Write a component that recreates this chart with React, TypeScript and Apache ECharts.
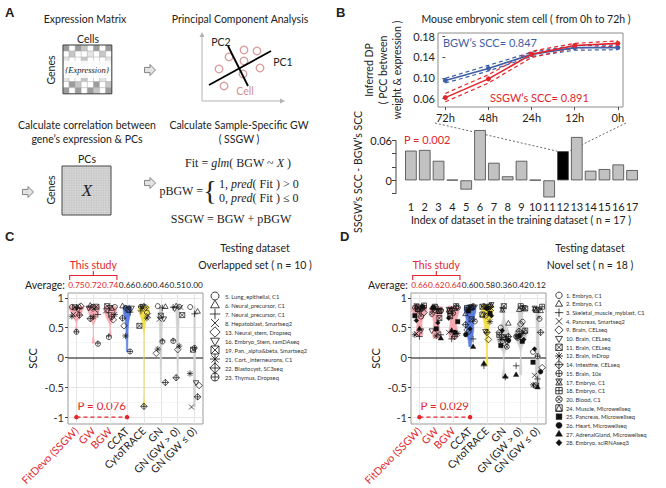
import React, { useEffect, useRef } from 'react';
import * as echarts from 'echarts';

const FONT = 'Lato, "Open Sans", sans-serif';
const SERIF = '"Liberation Serif", "DejaVu Serif", serif';
const RED = '#e2262c';
const BLUE = '#3f5fa6';
const TXT = '#222';

// ---------- Panel B (top): inferred DP over time ----------
const TIME_LABELS = ['72h', '48h', '24h', '12h', '0h'];
const BGW_MEAN = [0.095, 0.118, 0.145, 0.158, 0.158];
const BGW_UPPER = [0.099, 0.124, 0.149, 0.162, 0.163];
const BGW_LOWER = [0.090, 0.113, 0.141, 0.153, 0.154];
const SSGW_MEAN = [0.062, 0.098, 0.145, 0.162, 0.166];
const SSGW_UPPER = [0.070, 0.106, 0.151, 0.166, 0.171];
const SSGW_LOWER = [0.054, 0.090, 0.139, 0.157, 0.161];

// ---------- Panel B (bottom): SCC differences ----------
const BAR_INDEX = ['1', '2', '3', '4', '5', '6', '7', '8', '9', '10', '11', '12', '13', '14', '15', '16', '17'];
const BAR_DIFF = [0.0446, 0.0456, 0.0293, 0.0008, -0.0139, 0.0754, 0.0263, 0.006, 0.0293, 0.0006, -0.0268, 0.0437, 0.065, 0.0144, 0.0169, 0.0238, 0.0154];
const HIGHLIGHT_BAR = 11;

// ---------- Panels C / D ----------
const METHODS = ['FitDevo (SSGW)', 'GW', 'BGW', 'CCAT', 'CytoTRACE', 'GN', 'GN (GW > 0)', 'GN (GW ≤ 0)'];
const VIOLIN_COLORS = ['#f5a9b1', '#f5a9b1', '#f5a9b1', '#5b7fe0', '#f3df4c', '#d0d0d0', '#d0d0d0', '#d0d0d0'];

const C_DATASETS = ['5. Lung_epithelial, C1', '6. Neural_precursor, C1', '7. Neural_precursor, C1', '8. Hepatoblast, Smartseq2', '13. Neural_stem, Dropseq', '16. Embryo_Stem, ramDAseq', '19. Pan._alpha&beta, Smartseq2', '21. Cort._interneurons, C1', '22. Blastocyst, SC3seq', '23. Thymus, Dropseq'];
const C_PCH = [1, 2, 3, 4, 5, 6, 7, 8, 9, 10];
const C_AVG = ['0.75', '0.72', '0.74', '0.66', '0.60', '0.46', '0.51', '0.00'];
const C_FITDEVO = [0.86, 0.85, 0.84, 0.72, 0.86, 0.80, 0.84, 0.69, 0.71, 0.43];
const C_GW = [0.85, 0.87, 0.72, 0.80, 0.84, 0.83, 0.85, 0.68, 0.65, 0.24];
const C_BGW = [0.86, 0.82, 0.75, 0.78, 0.63, 0.84, 0.86, 0.72, 0.68, 0.36];
const C_CCAT = [0.85, 0.86, 0.76, 0.84, 0.53, 0.83, 0.80, 0.36, 0.66, 0.10];
const C_CYTO = [0.75, 0.86, 0.78, 0.70, 0.84, 0.85, 0.53, 0.66, -0.82, 0.85];
const C_GN = [0.86, 0.85, 0.83, 0.64, 0.07, 0.65, 0.70, 0.14, -0.42, 0.28];
const C_GN_POS = [0.86, 0.86, 0.84, 0.84, 0.13, 0.82, 0.71, 0.19, -0.34, 0.29];
const C_GN_NEG = [0.86, 0.77, 0.73, -0.83, -0.47, -0.42, 0.13, -0.27, -0.66, 0.16];
const C_P = 'P = 0.076';

const D_DATASETS = ['1. Embryo, C1', '2. Embryo, C1', '3. Skeletal_muscle_myblast, C1', '4. Pancreas, Smartseq2', '9. Brain, CELseq', '10. Brain, CELseq', '11. Brain, CELseq', '12. Brain, InDrop', '14. Intestine, CELseq', '15. Brain, 10x', '17. Embryo, C1', '18. Embryo, C1', '20. Blood, C1', '24. Muscle, Microwellseq', '25. Pancreas, Microwellseq', '26. Heart, Microwellseq', '27. AdrenalGland, Microwellseq', '28. Embryo, sciRNAseq3'];
const D_PCH = [1, 2, 3, 4, 5, 6, 7, 8, 9, 10, 11, 12, 13, 14, 15, 16, 17, 18];
const D_AVG = ['0.66', '0.62', '0.64', '0.60', '0.58', '0.36', '0.42', '0.12'];
const D_FITDEVO = [0.85, 0.84, 0.35, 0.40, 0.75, 0.45, 0.84, 0.38, 0.83, 0.78, 0.86, 0.87, 0.70, 0.81, 0.70, 0.85, 0.48, 0.62];
const D_GW = [0.84, 0.83, 0.38, 0.40, 0.80, 0.45, 0.66, 0.36, 0.82, 0.80, 0.78, 0.85, 0.74, 0.78, 0.48, 0.84, 0.32, 0.58];
const D_BGW = [0.85, 0.82, 0.31, 0.42, 0.84, 0.42, 0.69, 0.40, 0.35, 0.82, 0.80, 0.86, 0.74, 0.78, 0.60, 0.44, 0.45, 0.66];
const D_CCAT = [0.45, 0.73, 0.31, 0.83, 0.46, 0.85, 0.64, 0.80, 0.55, 0.86, 0.84, 0.83, 0.62, 0.84, 0.78, 0.40, 0.18, 0.48];
const D_CYTO = [0.86, 0.84, -0.14, 0.82, 0.30, 0.44, 0.85, 0.60, 0.42, 0.86, 0.88, 0.85, 0.72, 0.72, 0.74, 0.82, -0.10, 0.70];
const D_GN = [0.50, 0.57, -0.33, 0.22, 0.42, 0.26, 0.86, 0.30, 0.35, 0.33, 0.80, 0.38, 0.18, 0.34, 0.20, 0.30, -0.32, 0.45];
const D_GN_POS = [0.62, 0.80, -0.14, 0.42, 0.56, 0.35, 0.82, 0.40, 0.44, 0.36, 0.83, 0.86, 0.33, 0.45, 0.27, 0.38, -0.29, 0.30];
const D_GN_NEG = [0.10, 0.78, -0.36, -0.30, -0.17, 0.80, -0.47, -0.46, 0.42, 0.02, 0.82, 0.85, 0.67, 0.80, -0.08, -0.24, -0.50, 0.14];
const D_P = 'P = 0.029';

const C_VALUES = [C_FITDEVO, C_GW, C_BGW, C_CCAT, C_CYTO, C_GN, C_GN_POS, C_GN_NEG];
const D_VALUES = [D_FITDEVO, D_GW, D_BGW, D_CCAT, D_CYTO, D_GN, D_GN_POS, D_GN_NEG];

// ---------- helpers ----------
function kde(vals: number[]) {
  const n = vals.length;
  const mean = vals.reduce((a, b) => a + b, 0) / n;
  const sd = Math.sqrt(vals.reduce((a, b) => a + (b - mean) ** 2, 0) / (n - 1));
  const s = [...vals].sort((a, b) => a - b);
  const q = (p: number) => { const h = (n - 1) * p; const lo = Math.floor(h); return s[lo] + (h - lo) * (s[Math.min(lo + 1, n - 1)] - s[lo]); };
  let lo = Math.min(sd, (q(0.75) - q(0.25)) / 1.34);
  if (!(lo > 0)) lo = sd || 0.1;
  const bw = 0.9 * lo * Math.pow(n, -0.2);
  const out: number[][] = [];
  const K = 60;
  for (let k = 0; k <= K; k++) {
    const y = s[0] + ((s[n - 1] - s[0]) * k) / K;
    let d = 0;
    for (const v of vals) d += Math.exp(-0.5 * ((y - v) / bw) ** 2);
    out.push([y, d / (n * bw * Math.sqrt(2 * Math.PI))]);
  }
  return out;
}
function violinShapes(values: number[][]) {
  const dens = values.map(kde);
  let maxD = 0;
  dens.forEach(d => d.forEach(p => { if (p[1] > maxD) maxD = p[1]; }));
  return dens.map(d => d.map(([y, v]) => [y, (v / maxD) * 0.45]));
}

function pchShapes(p: number, cx: number, cy: number, r: number, lw: number): any[] {
  const color = '#111';
  const S = { stroke: color, fill: 'none', lineWidth: lw };
  const F = { stroke: color, fill: color, lineWidth: lw * 0.5 };
  const ln = (x1: number, y1: number, x2: number, y2: number) => ({ type: 'line', shape: { x1: cx + x1 * r, y1: cy + y1 * r, x2: cx + x2 * r, y2: cy + y2 * r }, style: { stroke: color, lineWidth: lw } });
  const circ = (k: number, st: any) => ({ type: 'circle', shape: { cx, cy, r: r * k }, style: st });
  const poly = (pts: number[][], st: any) => ({ type: 'polygon', shape: { points: pts.map(([x, y]) => [cx + x * r, cy + y * r]) }, style: st });
  const UP = [[0, -1.2], [1.1, 0.7], [-1.1, 0.7]];
  const DOWN = [[0, 1.2], [1.1, -0.7], [-1.1, -0.7]];
  const DIA = [[0, -1.3], [1.3, 0], [0, 1.3], [-1.3, 0]];
  const SQ = [[-1, -1], [1, -1], [1, 1], [-1, 1]];
  switch (p) {
    case 1: return [circ(1, S)];
    case 2: return [poly(UP, S)];
    case 3: return [ln(-1.3, 0, 1.3, 0), ln(0, -1.3, 0, 1.3)];
    case 4: return [ln(-1, -1, 1, 1), ln(-1, 1, 1, -1)];
    case 5: return [poly(DIA, S)];
    case 6: return [poly(DOWN, S)];
    case 7: return [poly(SQ, S), ln(-1, -1, 1, 1), ln(-1, 1, 1, -1)];
    case 8: return [ln(-1.25, 0, 1.25, 0), ln(0, -1.25, 0, 1.25), ln(-0.9, -0.9, 0.9, 0.9), ln(-0.9, 0.9, 0.9, -0.9)];
    case 9: return [poly(DIA, S), ln(-1.3, 0, 1.3, 0), ln(0, -1.3, 0, 1.3)];
    case 10: return [circ(1, S), ln(-1, 0, 1, 0), ln(0, -1, 0, 1)];
    case 11: return [poly([[-1, -0.95], [1, -0.95], [0, 0.85]], S), poly([[-1, 0.95], [1, 0.95], [0, -0.85]], S)];
    case 12: return [poly(SQ, S), ln(-1, 0, 1, 0), ln(0, -1, 0, 1)];
    case 13: return [circ(1, S), ln(-0.7, -0.7, 0.7, 0.7), ln(-0.7, 0.7, 0.7, -0.7)];
    case 14: return [poly(SQ, S), poly([[0, -1], [1, 1], [-1, 1]], S)];
    case 15: return [poly([[-0.9, -0.9], [0.9, -0.9], [0.9, 0.9], [-0.9, 0.9]], F)];
    case 16: return [circ(0.95, F)];
    case 17: return [poly(UP, F)];
    case 18: return [poly([[0, -1], [0.95, 0], [0, 1], [-0.95, 0]], F)];
  }
  return [];
}

function T(x: number, y: number, text: string, o: any = {}) {
  const { rotation, ...st } = o;
  return {
    type: 'text', x, y, rotation: rotation || 0, silent: true,
    style: { text, fontSize: 10.5, fontFamily: FONT, fill: TXT, align: 'center', verticalAlign: 'middle', textAlign: 'center', textVerticalAlign: 'middle', ...st },
  };
}
function L(x1: number, y1: number, x2: number, y2: number, st: any = {}) {
  return { type: 'line', silent: true, shape: { x1, y1, x2, y2 }, style: { stroke: '#000', lineWidth: 1, ...st } };
}

const MATRIX_PATTERN = [
  'd.dm.d.d',
  '.m..l.m.',
  'l..m...l',
  '........',
  '........',
  'l..m..l.',
  '.dm..d.m',
  'd.d.dm.d',
];

function panelA(): any[] {
  const els: any[] = [];
  els.push(T(5, 12, 'A', { align: 'left', textAlign: 'left', fontSize: 13, fontWeight: 'bold', fontFamily: 'Liberation Sans, Arial, sans-serif' }));
  els.push(T(85, 19, 'Expression Matrix'));
  els.push(T(240, 19, 'Principal Component Analysis'));
  els.push(T(88, 39, 'Cells'));
  els.push(T(51, 70, 'Genes', { rotation: Math.PI / 2 }));
  // matrix 1
  const mx = 63, my = 45, cs = 6.1;
  const col: any = { d: '#9c9c9c', m: '#c6c6c6', l: '#e4e4e4', '.': '#ffffff' };
  MATRIX_PATTERN.forEach((row, r) => row.split('').forEach((ch, c) => {
    els.push({ type: 'rect', silent: true, shape: { x: mx + c * cs, y: my + r * cs, width: cs, height: cs }, style: { fill: col[ch], stroke: '#a8a8a8', lineWidth: 0.4 } });
  }));
  els.push({ type: 'rect', silent: true, shape: { x: mx + 1, y: my + 2.6 * cs, width: 8 * cs - 2, height: 2.8 * cs }, style: { fill: '#ffffff', opacity: 0.85 } });
  els.push(T(87, 70, '{Expression}', { fontFamily: SERIF, fontStyle: 'italic', fontSize: 8.5 }));
  els.push({ type: 'rect', silent: true, shape: { x: mx, y: my, width: 8 * cs, height: 8 * cs }, style: { fill: 'none', stroke: '#444', lineWidth: 1 } });
  // arrows
  const arrow = (cx: number, cy: number) => ({ type: 'polygon', silent: true, shape: { points: [[cx - 5.5, cy - 2.6], [cx, cy - 2.6], [cx, cy - 5.5], [cx + 5.5, cy], [cx, cy + 5.5], [cx, cy + 2.6], [cx - 5.5, cy + 2.6]] }, style: { fill: '#e2e2e2', stroke: '#777', lineWidth: 0.9 } });
  els.push(arrow(150, 70), arrow(28, 192), arrow(150, 183));
  // PCA sketch
  els.push(L(202, 101, 202, 36, { stroke: '#b3b3b3' }));
  els.push({ type: 'polygon', silent: true, shape: { points: [[199.5, 37], [202, 32], [204.5, 37]] }, style: { fill: '#b3b3b3' } });
  els.push(L(202, 101, 281, 101, { stroke: '#b3b3b3' }));
  els.push({ type: 'polygon', silent: true, shape: { points: [[280, 98.5], [285, 101], [280, 103.5]] }, style: { fill: '#b3b3b3' } });
  const cells = [[219, 69], [229, 57], [244, 50], [257, 51], [244, 61], [260, 68], [243, 74], [224, 86]];
  cells.forEach(([x, y]) => els.push({ type: 'circle', silent: true, shape: { cx: x, cy: y, r: 3.8 }, style: { fill: 'none', stroke: '#d99a9a', lineWidth: 1.3 } }));
  els.push(L(209, 85, 271, 51, { lineWidth: 1.8 }));
  els.push(L(228, 46, 248, 86, { lineWidth: 1.8 }));
  els.push(T(221, 42, 'PC2'));
  els.push(T(283, 62, 'PC1'));
  els.push(T(245, 91, 'Cell', { fill: '#d48e8e' }));
  // second row
  els.push(T(87, 125, 'Calculate correlation between'));
  els.push(T(87, 139, 'gene’s expression & PCs'));
  els.push(T(239, 125, 'Calculate Sample-Specific GW'));
  els.push(T(239, 139, '( SSGW )'));
  els.push(T(87, 159, 'PCs'));
  els.push(T(51, 190, 'Genes', { rotation: Math.PI / 2 }));
  const px0 = 62, py0 = 166, sz = 49;
  els.push({ type: 'rect', silent: true, shape: { x: px0, y: py0, width: sz, height: sz }, style: { fill: '#dadada' } });
  for (let k = 1; k < 20; k++) {
    const o = (sz * k) / 20;
    els.push(L(px0 + o, py0, px0 + o, py0 + sz, { stroke: '#b8b8b8', lineWidth: 0.4 }));
    els.push(L(px0, py0 + o, px0 + sz, py0 + o, { stroke: '#b8b8b8', lineWidth: 0.4 }));
  }
  els.push({ type: 'rect', silent: true, shape: { x: px0, y: py0, width: sz, height: sz }, style: { fill: 'none', stroke: '#444', lineWidth: 1 } });
  els.push(T(87, 190, 'X', { fontFamily: SERIF, fontStyle: 'italic', fontSize: 17 }));
  // formulas
  const rich = { n: { fontFamily: SERIF, fontSize: 12, fill: TXT }, i: { fontFamily: SERIF, fontSize: 12, fontStyle: 'italic', fill: TXT } };
  els.push(T(238, 163, '{n|Fit = }{i|glm}{n|( BGW ~ }{i|X}{n| )}', { rich }));
  els.push(T(203, 191, 'pBGW =', { fontFamily: SERIF, fontSize: 12, align: 'right', textAlign: 'right' }));
  els.push(T(210, 190, '{', { fontFamily: SERIF, fontSize: 28 }));
  els.push(T(219, 184, '{n|1, }{i|pred}{n|( Fit ) > 0}', { rich, align: 'left', textAlign: 'left' }));
  els.push(T(219, 198, '{n|0, }{i|pred}{n|( Fit ) ≤ 0}', { rich, align: 'left', textAlign: 'left' }));
  els.push(T(231, 219, 'SSGW = BGW + pBGW', { fontFamily: SERIF, fontSize: 12 }));
  return els;
}

function legend(names: string[], pchs: number[], symX: number, textX: number, y0: number, dy: number, r: number): any[] {
  const els: any[] = [];
  names.forEach((nm, i) => {
    const y = y0 + i * dy;
    els.push({ type: 'group', silent: true, children: pchShapes(pchs[i], symX, y, r, 0.8) });
    els.push(T(textX, y, nm, { fontSize: 5.8, align: 'left', textAlign: 'left', fill: '#333' }));
  });
  return els;
}

function violinSeries(xi: number, yi: number, values: number[][]) {
  const shapes = violinShapes(values);
  return {
    type: 'custom', xAxisIndex: xi, yAxisIndex: yi, z: 3, silent: true,
    data: METHODS.map((_, i) => [i, 0]),
    renderItem: (params: any, api: any) => {
      const i = api.value(0);
      const cx = api.coord([i, 0])[0];
      const band = api.size([1, 0])[0];
      const Lp: number[][] = [], Rp: number[][] = [];
      for (const [y, hw] of shapes[i]) {
        const py = api.coord([i, y])[1];
        Lp.push([cx - hw * band, py]);
        Rp.push([cx + hw * band, py]);
      }
      return { type: 'polygon', shape: { points: Lp.concat(Rp.reverse()) }, style: { fill: VIOLIN_COLORS[i], stroke: VIOLIN_COLORS[i], lineWidth: 0.6 } };
    },
  };
}

function pointSeries(xi: number, yi: number, values: number[][], pchs: number[]) {
  const data: number[][] = [];
  values.forEach((arr, m) => arr.forEach((v, d) => data.push([m, v, d])));
  return {
    type: 'custom', xAxisIndex: xi, yAxisIndex: yi, z: 4, silent: true,
    encode: { x: 0, y: 1 },
    data,
    renderItem: (params: any, api: any) => {
      const m = api.value(0), v = api.value(1), d = api.value(2);
      const [x, y] = api.coord([m, v]);
      const band = api.size([1, 0])[0];
      const jit = ((((d * 5 + m * 3) % 7) - 3) / 3) * 0.27 * band;
      return { type: 'group', children: pchShapes(pchs[d], x + jit, y, 2.5, 0.7) };
    },
  };
}

function gridLines(xi: number, yi: number) {
  const minor = [-0.75, -0.25, 0.25, 0.75];
  const major = [-1, -0.5, 0.5, 1];
  return {
    type: 'line', xAxisIndex: xi, yAxisIndex: yi, data: [[0, 0]], symbol: 'none', lineStyle: { opacity: 0 }, silent: true, z: 1,
    markLine: {
      silent: true, symbol: 'none', label: { show: false }, z: 1, animation: false,
      data: [
        ...minor.map(v => ({ yAxis: v, lineStyle: { color: '#f2f2f2', width: 0.6, type: 'solid' } })),
        ...major.map(v => ({ yAxis: v, lineStyle: { color: '#e3e3e3', width: 0.9, type: 'solid' } })),
        ...METHODS.map(m => ({ xAxis: m, lineStyle: { color: '#e3e3e3', width: 0.9, type: 'solid' } })),
        { yAxis: 0, lineStyle: { color: '#5a5a5a', width: 1.6, type: 'solid' } },
      ],
    },
  };
}

function pLine(xi: number, yi: number) {
  return {
    type: 'line', xAxisIndex: xi, yAxisIndex: yi, z: 6, silent: true,
    data: [[0, -1], [3, -1]], symbol: 'circle', symbolSize: 4.5,
    itemStyle: { color: RED }, lineStyle: { color: RED, width: 1.2, type: [4, 3] },
  };
}

function methodAxes(gridIndex: number, avg: string[]) {
  return [
    {
      type: 'category', gridIndex, data: METHODS.map((m, i) => ({ value: m, textStyle: { color: i < 3 ? RED : TXT } })),
      axisLine: { show: false }, axisTick: { show: true, alignWithLabel: true, length: 3, lineStyle: { color: '#444' } },
      axisLabel: { rotate: 45, interval: 0, fontSize: 10.5, margin: 5, fontFamily: FONT },
      splitLine: { show: false },
    },
    {
      type: 'category', gridIndex, position: 'top', data: avg.map((a, i) => ({ value: a, textStyle: { color: i < 3 ? RED : TXT } })),
      axisLine: { show: false }, axisTick: { show: false },
      axisLabel: { interval: 0, fontSize: 8.3, margin: 4, fontFamily: FONT },
    },
  ];
}
function sccAxis(gridIndex: number) {
  const ticks = [-1, -0.5, 0, 0.5, 1];
  return {
    type: 'value', gridIndex, min: -1.115, max: 1.08,
    name: 'SCC', nameLocation: 'middle', nameGap: 30, nameRotate: 90,
    nameTextStyle: { fontSize: 11, color: TXT, fontFamily: FONT },
    axisLine: { show: false },
    axisTick: { show: true, length: 3, customValues: ticks, lineStyle: { color: '#444' } },
    axisLabel: { customValues: ticks, fontSize: 11, color: '#333', margin: 4, fontFamily: FONT },
    splitLine: { show: false },
  };
}

function buildOption(): any {
  const lineS = (data: number[], color: string, dashed: boolean) => ({
    type: 'line', xAxisIndex: 0, yAxisIndex: 0, silent: true,
    data: data.map((v, i) => [i, v]),
    symbol: dashed ? 'none' : 'circle', symbolSize: 5,
    itemStyle: { color }, lineStyle: { color, width: dashed ? 1.2 : 1.6, type: dashed ? [4, 3] : 'solid' },
    z: dashed ? 2 : 3,
  });
  return {
    animation: false,
    backgroundColor: '#fff',
    textStyle: { fontFamily: FONT },
    grid: [
      { left: 438, top: 33, width: 185, height: 74, show: true, borderColor: '#8c8c8c', borderWidth: 1 },
      { left: 404, top: 127, width: 235, height: 70 },
      { left: 68, top: 293, width: 135, height: 135, show: true, borderColor: '#9a9a9a', borderWidth: 1 },
      { left: 411, top: 293, width: 135, height: 135, show: true, borderColor: '#9a9a9a', borderWidth: 1 },
    ],
    xAxis: [
      {
        type: 'value', gridIndex: 0, min: -0.17, max: 4.12,
        axisLine: { show: false }, splitLine: { show: false },
        axisTick: { show: true, length: 3, customValues: [0, 1, 2, 3, 4], lineStyle: { color: '#555' } },
        axisLabel: { customValues: [0, 1, 2, 3, 4], formatter: (v: number) => TIME_LABELS[Math.round(v)], fontSize: 11, color: TXT, margin: 5 },
      },
      {
        type: 'category', gridIndex: 1, data: BAR_INDEX,
        axisLine: { show: false }, axisTick: { show: false },
        axisLabel: { interval: 0, fontSize: 11, color: TXT, margin: 4 },
      },
      ...methodAxes(2, C_AVG),
      ...methodAxes(3, D_AVG),
    ],
    yAxis: [
      {
        type: 'value', gridIndex: 0, min: 0.044, max: 0.186,
        axisLine: { show: false }, splitLine: { show: false },
        axisTick: { show: true, length: 3, customValues: [0.06, 0.10, 0.14, 0.18], lineStyle: { color: '#555' } },
        axisLabel: { customValues: [0.06, 0.10, 0.14, 0.18], formatter: (v: number) => v.toFixed(2), fontSize: 11, color: TXT, margin: 3 },
      },
      {
        type: 'value', gridIndex: 1, min: -0.025, max: 0.08, offset: 8,
        axisLine: { show: false }, splitLine: { show: false },
        axisTick: { show: true, length: 4, customValues: [-0.02, 0, 0.02, 0.04, 0.06], lineStyle: { color: '#444' } },
        axisLabel: { customValues: [0, 0.06], formatter: (v: number) => (v === 0 ? '0' : v.toFixed(2)), fontSize: 11, color: TXT, margin: 4 },
      },
      sccAxis(2),
      sccAxis(3),
    ],
    series: [
      lineS(BGW_UPPER, BLUE, true), lineS(BGW_LOWER, BLUE, true),
      lineS(SSGW_UPPER, RED, true), lineS(SSGW_LOWER, RED, true),
      lineS(BGW_MEAN, BLUE, false), lineS(SSGW_MEAN, RED, false),
      {
        type: 'bar', xAxisIndex: 1, yAxisIndex: 1, silent: true, barCategoryGap: '16%',
        itemStyle: { color: '#c2c2c2', borderColor: '#444', borderWidth: 0.8 },
        data: BAR_DIFF.map((v, i) => (i === HIGHLIGHT_BAR ? { value: v, itemStyle: { color: '#000' } } : v)),
      },
      gridLines(2, 2), violinSeries(2, 2, C_VALUES), pointSeries(2, 2, C_VALUES, C_PCH), pLine(2, 2),
      gridLines(4, 3), violinSeries(4, 3, D_VALUES), pointSeries(4, 3, D_VALUES, D_PCH), pLine(4, 3),
    ],
  };
}

function buildGraphics(chart: any): any[] {
  const px = (xi: number, yi: number, pt: any[]) => chart.convertToPixel({ xAxisIndex: xi, yAxisIndex: yi }, pt) as number[];
  const els: any[] = panelA();
  const bold = { fontSize: 13, fontWeight: 'bold', fontFamily: 'Liberation Sans, Arial, sans-serif', align: 'left', textAlign: 'left' };
  els.push(T(336, 12, 'B', bold), T(5, 236, 'C', bold), T(340, 236, 'D', bold));

  // Panel B texts
  els.push(T(526, 19, 'Mouse embryonic stem cell ( from 0h to 72h )'));
  els.push(T(443, 42, 'BGW’s SCC= 0.847', { fill: BLUE, fontSize: 11, align: 'left', textAlign: 'left' }));
  els.push(T(490, 97, 'SSGW’s SCC= 0.891', { fill: RED, fontSize: 11, align: 'left', textAlign: 'left' }));
  els.push(T(383, 70, 'Inferred DP\n( PCC between\nweight & expression )', { rotation: Math.PI / 2, lineHeight: 14, fontSize: 10.5 }));
  els.push(T(358, 172, 'SSGW’s SCC - BGW’s SCC', { rotation: Math.PI / 2, fontSize: 10.5 }));
  els.push(T(521, 220, 'Index of dataset in the training dataset ( n = 17 )'));
  els.push(T(404, 139, 'P = 0.002', { fill: RED, fontSize: 11, align: 'left', textAlign: 'left' }));
  // bar y-axis line
  const yTop = px(1, 1, [0, 0.06])[1], yBot = px(1, 1, [0, -0.02])[1];
  const axX = px(1, 1, [0, 0])[0] - (px(1, 1, [1, 0])[0] - px(1, 1, [0, 0])[0]) / 2 - 8;
  els.push(L(axX, yTop, axX, yBot, { stroke: '#444', lineWidth: 1 }));
  // connectors to highlighted bar
  const band = px(1, 1, [1, 0])[0] - px(1, 1, [0, 0])[0];
  const hb = px(1, 1, [HIGHLIGHT_BAR, BAR_DIFF[HIGHLIGHT_BAR]]);
  const lx = px(0, 0, [-0.17, 0.06])[0] - 3, rx = px(0, 0, [4.12, 0.06])[0] + 3;
  const ly = px(0, 0, [0, 0.044])[1] + 16;
  els.push(L(lx, ly, hb[0] - band * 0.42, hb[1], { stroke: '#444', lineWidth: 0.8, lineDash: [2, 2] }));
  els.push(L(rx, ly, hb[0] + band * 0.42, hb[1], { stroke: '#444', lineWidth: 0.8, lineDash: [2, 2] }));

  // Panels C and D
  const panels = [
    { xi: 2, yi: 2, p: C_P, cx: 255, t2: 'Overlapped set ( n = 10 )' },
    { xi: 4, yi: 3, p: D_P, cx: 590, t2: 'Novel set ( n = 18 )' },
  ];
  panels.forEach(({ xi, yi, p, cx, t2 }) => {
    const c0 = px(xi, yi, [0, 0]), c2 = px(xi, yi, [2, 0]), c3 = px(xi, yi, [3, 0]);
    const bw = px(xi, yi, [1, 0])[0] - c0[0];
    const gridLeft = c0[0] - bw / 2;
    els.push(T(cx, 248, 'Testing dataset'));
    els.push(T(cx, 265, t2));
    els.push(T(gridLeft - 3, 285, 'Average:', { align: 'right', textAlign: 'right' }));
    const bx0 = c0[0] - bw * 0.4, bx1 = c2[0] + bw * 0.4, bm = (c0[0] + c2[0]) / 2;
    els.push(T(bm, 265, 'This study', { fill: RED }));
    els.push({ type: 'polyline', silent: true, shape: { points: [[bx0, 280], [bx0, 275.5], [bx1, 275.5], [bx1, 280]] }, style: { stroke: RED, lineWidth: 1.1, fill: 'none' } });
    els.push(L(bm, 275.5, bm, 271, { stroke: RED, lineWidth: 1.1 }));
    els.push(T((c0[0] + c3[0]) / 2, px(xi, yi, [0, -0.8])[1], p, { fill: RED, fontSize: 11.5 }));
  });

  els.push(...legend(C_DATASETS, C_PCH, 215, 225, 296, 9, 4));
  els.push(...legend(D_DATASETS, D_PCH, 559, 566, 295.3, 8.67, 3.2));
  return els;
}

export default function App() {
  const ref = useRef<HTMLDivElement>(null);
  useEffect(() => {
    const chart = echarts.init(ref.current as HTMLDivElement, null, { renderer: 'svg', width: 666, height: 488 });
    chart.setOption(buildOption());
    chart.setOption({ graphic: buildGraphics(chart) });
    return () => chart.dispose();
  }, []);
  return <div ref={ref} style={{ position: 'fixed', left: 0, top: 0, width: 666, height: 488, background: '#fff' }} />;
}
